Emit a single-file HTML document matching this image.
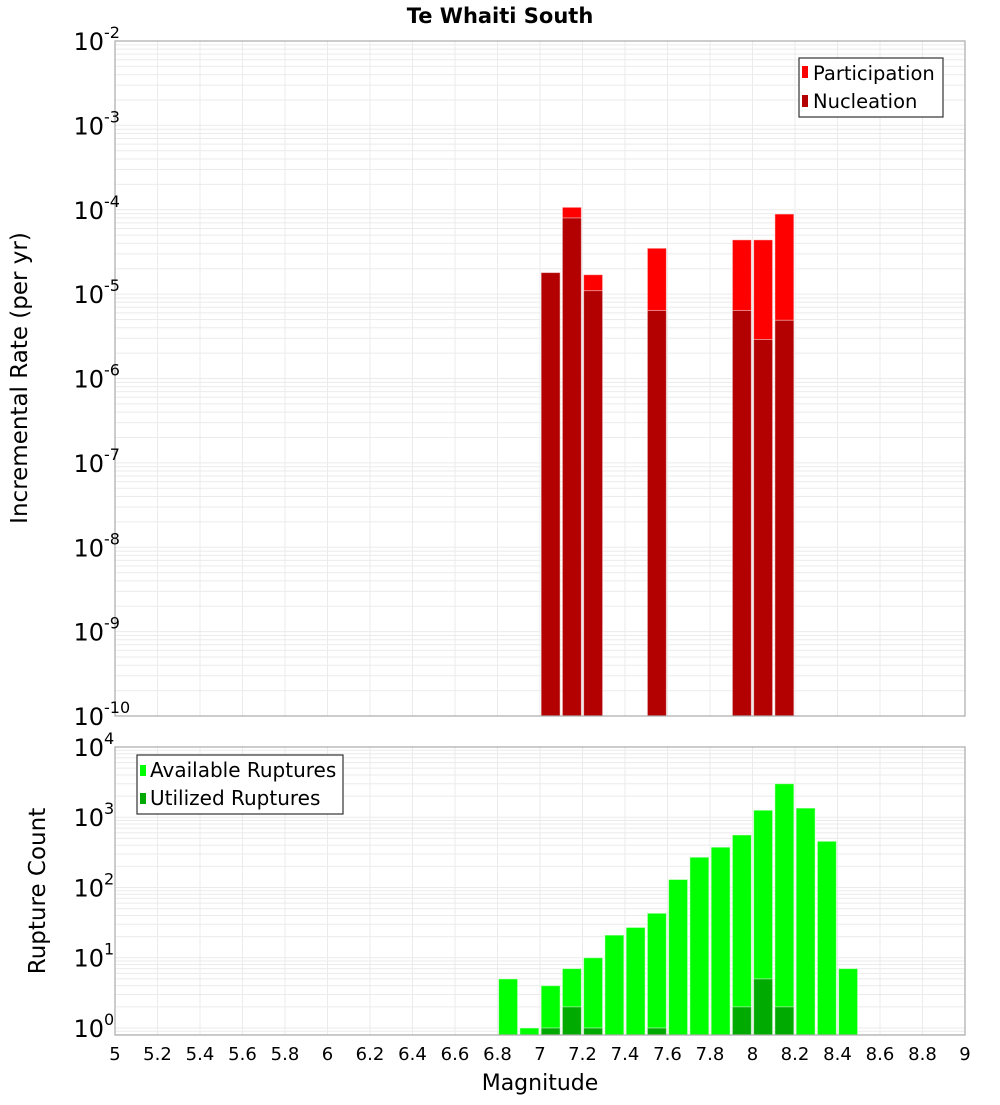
<!DOCTYPE html>
<html><head><meta charset="utf-8"><style>
body{margin:0;background:#fff;}
svg text{font-family:"DejaVu Sans","Liberation Sans",sans-serif;}
</style></head><body>
<svg id="c" width="1000" height="1100" xmlns="http://www.w3.org/2000/svg">
<text x="500" y="23" text-anchor="middle" font-size="21" font-weight="bold">Te Whaiti South</text>
<g id="gtop"></g>
<g id="gbot"></g>
<text transform="translate(27,378) rotate(-90)" text-anchor="middle" font-size="23">Incremental Rate (per yr)</text>
<text transform="translate(45,891) rotate(-90)" text-anchor="middle" font-size="23">Rupture Count</text>
<text x="540" y="1090" text-anchor="middle" font-size="22">Magnitude</text>
<g>
<rect x="799" y="58" width="144" height="59" fill="#fff" stroke="#333" stroke-width="1.2"/>
<rect x="802" y="66" width="6" height="12" fill="#ff0000"/>
<text x="813" y="80" font-size="19.5">Participation</text>
<rect x="802" y="95" width="6" height="12" fill="#b30000"/>
<text x="813" y="108" font-size="19.5">Nucleation</text>
</g>
<g>
<rect x="137" y="755" width="206" height="59" fill="#fff" stroke="#333" stroke-width="1.2"/>
<rect x="140" y="765" width="6" height="11" fill="#00ff00"/>
<text x="150" y="777" font-size="20">Available Ruptures</text>
<rect x="140" y="793" width="6" height="11" fill="#00aa00"/>
<text x="150" y="805" font-size="20">Utilized Ruptures</text>
</g>
</svg>
<script>
const rateMags=[7.05,7.15,7.25,7.55,7.95,8.05,8.15];
const participation=[1.8e-5,1.07e-4,1.7e-5,3.5e-5,4.4e-5,4.4e-5,8.9e-5];
const nucleation=[1.8e-5,8.0e-5,1.1e-5,6.4e-6,6.4e-6,2.9e-6,4.9e-6];
const countMags=[6.85,6.95,7.05,7.15,7.25,7.35,7.45,7.55,7.65,7.75,7.85,7.95,8.05,8.15,8.25,8.35,8.45];
const available=[5,1,4,7,10,21,27,43,130,270,375,560,1260,3000,1350,455,7];
const utilizedMags=[7.05,7.15,7.25,7.55,7.95,8.05,8.15];
const utilized=[1,2,1,1,2,5,2];
const xTicks=[5,5.2,5.4,5.6,5.8,6,6.2,6.4,6.6,6.8,7,7.2,7.4,7.6,7.8,8,8.2,8.4,8.6,8.8,9];
const topExps=[-2,-3,-4,-5,-6,-7,-8,-9,-10];
const botExps=[4,3,2,1,0];
const NS='http://www.w3.org/2000/svg';
const X0=115,X1=965;
function xs(m){return X0+(m-5)/4*(X1-X0);}
const T={top:41,bot:716,lmax:-2,lmin:-10};
const B={top:747,bot:1035,lmax:4,lmin:-0.1};
function ys(P,v){return P.top+(P.lmax-Math.log10(v))/(P.lmax-P.lmin)*(P.bot-P.top);}
function mk(p,tag,a){const e=document.createElementNS(NS,tag);for(const k in a)e.setAttribute(k,a[k]);p.appendChild(e);return e;}
function frame(g,P){
  mk(g,'rect',{x:X0,y:P.top,width:X1-X0,height:P.bot-P.top,fill:'#fff'});
  for(let d=Math.floor(P.lmin);d<=P.lmax;d++){for(let k=1;k<10;k++){const v=k*Math.pow(10,d);const l=Math.log10(v);if(l<P.lmin||l>P.lmax)continue;const y=ys(P,v);
    const ln=mk(g,'line',{x1:X0,x2:X1,y1:y,y2:y,stroke:'#ebebeb','stroke-width':1});
    
    }}
  xTicks.forEach(t=>{const ln=mk(g,'line',{x1:xs(t),x2:xs(t),y1:P.top,y2:P.bot,stroke:'#ebebeb','stroke-width':1});
    
    });
}
function border(g,P){mk(g,'rect',{x:X0,y:P.top,width:X1-X0,height:P.bot-P.top,fill:'none',stroke:'#aaa','stroke-width':1.2});}
function ylabels(g,P,exps){exps.forEach(e=>{const y=ys(P,Math.pow(10,e));
  const t=mk(g,'text',{x:104,y:y+9,'text-anchor':'end','font-size':24});t.textContent='10';
  
  
  const s=mk(g,'text',{x:104,y:y-3,'font-size':16});s.textContent=String(e);
  
  });}
function bars(g,P,mags,vals,color,name){mags.forEach((m,i)=>{const y=ys(P,vals[i]);const w=19;
  const r=mk(g,'rect',{x:xs(m)-w/2,y:y,width:w,height:P.bot-y,fill:color,stroke:'#fff','stroke-opacity':0.5,'stroke-width':1});
  
  });}
const gTop=document.getElementById('gtop'),gBot=document.getElementById('gbot');
frame(gTop,T);
bars(gTop,T,rateMags,participation,'#ff0000','bar-participation');
bars(gTop,T,rateMags,nucleation,'#b30000','bar-nucleation');
border(gTop,T);ylabels(gTop,T,topExps);
frame(gBot,B);
bars(gBot,B,countMags,available,'#00ff00','bar-available');
bars(gBot,B,utilizedMags,utilized,'#00aa00','bar-utilized');
border(gBot,B);ylabels(gBot,B,botExps);
xTicks.forEach(t=>{const tx=mk(gBot,'text',{x:xs(t),y:1060,'text-anchor':'middle','font-size':18});
  tx.textContent=String(t);
  
  });
</script>
</body></html>
